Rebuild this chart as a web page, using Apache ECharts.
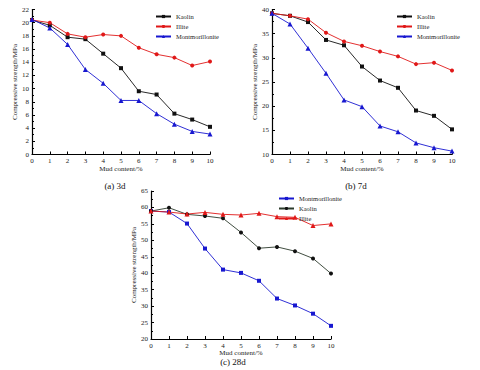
<!DOCTYPE html>
<html>
<head>
<meta charset="utf-8">
<script src="https://cdn.jsdelivr.net/npm/echarts@6/dist/echarts.min.js"></script>
<style>
  html, body { margin: 0; padding: 0; background: #fff; }
  #chart { width: 480px; height: 370px; }
</style>
</head>
<body>
<div id="chart"></div>
<script>
var mudContent = [0, 1, 2, 3, 4, 5, 6, 7, 8, 9, 10];

// 3d
var kaolin3d = [20.4, 19.6, 17.8, 17.5, 15.3, 13.1, 9.6, 9.1, 6.2, 5.3, 4.2];
var illite3d = [20.4, 20.0, 18.3, 17.8, 18.2, 18.0, 16.2, 15.2, 14.7, 13.5, 14.1];
var mont3d = [20.5, 19.2, 16.7, 12.9, 10.8, 8.2, 8.2, 6.2, 4.6, 3.5, 3.1];

// 7d
var kaolin7d = [39.2, 38.7, 37.4, 33.7, 32.6, 28.2, 25.3, 23.8, 19.1, 18.0, 15.2];
var illite7d = [39.2, 38.7, 38.0, 35.2, 33.4, 32.5, 31.3, 30.3, 28.7, 29.0, 27.4];
var mont7d = [39.2, 37.0, 32.0, 26.8, 21.3, 19.9, 15.9, 14.7, 12.4, 11.4, 10.7];

// 28d
var mont28d = [58.9, 58.6, 55.1, 47.5, 41.1, 40.1, 37.7, 32.3, 30.2, 27.7, 24.0];
var kaolin28d = [58.9, 59.9, 57.9, 57.4, 56.7, 52.4, 47.6, 48.0, 46.7, 44.5, 39.9];
var illite28d = [58.9, 58.6, 58.0, 58.5, 57.9, 57.7, 58.2, 57.2, 57.0, 54.5, 55.0];

var xName = 'Mud content/%';
var yName = 'Compressive strength/MPa';
var captions = ['(a) 3d', '(b) 7d', '(c) 28d'];

var font = 'Liberation Serif';
var black = '#111';
var red = '#e01818';
var blue = '#1818d0';

function pairs(vals) {
  return mudContent.map(function(x, i) { return [x, vals[i]]; });
}

function xAxis(gi) {
  return {
    type: 'value', gridIndex: gi, min: 0, max: 10, interval: 1,
    name: xName, nameLocation: 'middle', nameGap: 10,
    nameTextStyle: { fontFamily: font, fontSize: 7, color: '#222' },
    axisLine: { lineStyle: { color: '#000', width: 1.2 } },
    axisTick: { inside: true, length: 3, lineStyle: { color: '#000' } },
    axisLabel: { fontFamily: font, fontSize: 7, color: '#222', margin: 3 },
    splitLine: { show: false }
  };
}

function yAxis(gi, min, max, step, gap) {
  return {
    type: 'value', gridIndex: gi, min: min, max: max, interval: step,
    name: yName, nameLocation: 'middle', nameGap: gap,
    nameTextStyle: { fontFamily: font, fontSize: 7, color: '#222' },
    axisLine: { show: true, lineStyle: { color: '#000', width: 1.2 } },
    axisTick: { inside: true, length: 3, lineStyle: { color: '#000' } },
    minorTick: { show: true, splitNumber: 2, length: 2, lineStyle: { color: '#000' } },
    axisLabel: { fontFamily: font, fontSize: 7, color: '#222', margin: 3 },
    splitLine: { show: false }
  };
}

function line(name, gi, vals, color, lineColor, symbol, size) {
  return {
    name: name, type: 'line', xAxisIndex: gi, yAxisIndex: gi,
    data: pairs(vals),
    symbol: symbol, symbolSize: size,
    lineStyle: { color: lineColor, width: 0.9 },
    itemStyle: { color: color },
    z: 3
  };
}

function legend(left, top, names) {
  return {
    orient: 'vertical', left: left, top: top, data: names,
    itemWidth: 15, itemHeight: 4, itemGap: 3,
    textStyle: { fontFamily: font, fontSize: 6.5, color: '#222' },
    formatter: function(n) { return n.split('|')[1]; }
  };
}

var capStyle = { fontFamily: font, fontSize: 9, fontWeight: 'normal', color: '#111' };

var chart = echarts.init(document.getElementById('chart'), null, { renderer: 'svg' });
chart.setOption({
  animation: false,
  backgroundColor: '#fff',
  title: [
    { text: captions[0], left: 110, top: 176, textAlign: 'center', textStyle: capStyle },
    { text: captions[1], left: 351, top: 176, textAlign: 'center', textStyle: capStyle },
    { text: captions[2], left: 228, top: 352, textAlign: 'center', textStyle: capStyle }
  ],
  legend: [
    legend(150, 8, ['3d|Kaolin', '3d|Illite', '3d|Montmorillonite']),
    legend(391, 8, ['7d|Kaolin', '7d|Illite', '7d|Montmorillonite']),
    legend(273, 190, ['28d|Montmorillonite', '28d|Kaolin', '28d|Illite'])
  ],
  grid: [
    { left: 32, top: 9.5, width: 178, height: 145 },
    { left: 272, top: 9.5, width: 180, height: 145 },
    { left: 151, top: 191, width: 180, height: 148 }
  ],
  xAxis: [xAxis(0), xAxis(1), xAxis(2)],
  yAxis: [yAxis(0, 0, 22, 2, 14), yAxis(1, 10, 40, 5, 14), yAxis(2, 20, 65, 5, 14)],
  series: [
    line('3d|Kaolin', 0, kaolin3d, black, black, 'rect', 4),
    line('3d|Illite', 0, illite3d, red, red, 'circle', 4),
    line('3d|Montmorillonite', 0, mont3d, blue, blue, 'triangle', 5),
    line('7d|Kaolin', 1, kaolin7d, black, black, 'rect', 4),
    line('7d|Illite', 1, illite7d, red, red, 'circle', 4),
    line('7d|Montmorillonite', 1, mont7d, blue, blue, 'triangle', 5),
    line('28d|Montmorillonite', 2, mont28d, blue, blue, 'rect', 4),
    line('28d|Kaolin', 2, kaolin28d, black, '#2b3a2b', 'circle', 4),
    line('28d|Illite', 2, illite28d, red, red, 'triangle', 5)
  ]
});
</script>
</body>
</html>
